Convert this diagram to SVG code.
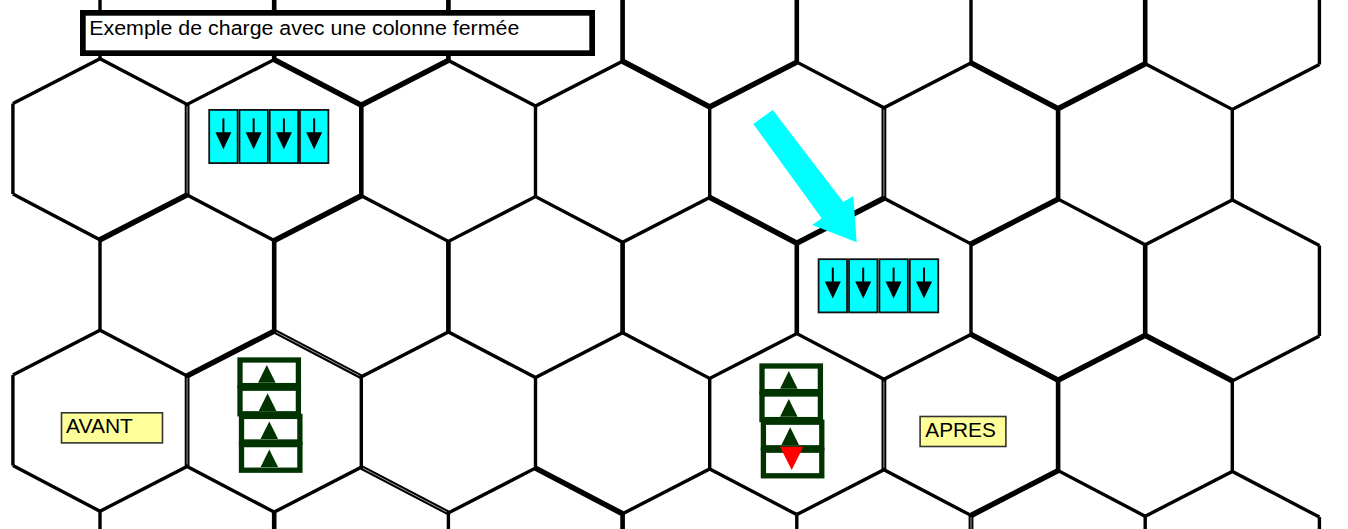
<svg xmlns="http://www.w3.org/2000/svg" width="1348" height="529" viewBox="0 0 1348 529">
<style>
.g{fill:none;stroke:#000;stroke-width:3.4;stroke-linejoin:miter}
.t{fill:none;stroke:#000;stroke-width:5.5}
.tv{fill:none;stroke:#000;stroke-width:4.6}
.dbl{fill:none;stroke:#000;stroke-width:4.8}
.dbi{fill:none;stroke:#b0b0b0;stroke-width:0.9}
.lbl{font-family:"Liberation Sans",Arial,Helvetica,sans-serif;fill:#000}
.cyc{fill:#00ffff;stroke:#111;stroke-width:1.8}
.gbx{fill:#fff;stroke:#003300;stroke-width:5.3}
</style>
<defs>
<g id="cycell">
<rect class="cyc" x="0.9" y="0.9" width="28.45" height="53.2"/>
<line x1="15.1" y1="9.3" x2="15.1" y2="25" stroke="#000" stroke-width="2"/>
<polygon points="7.1,23.3 23.1,23.3 15.1,40.3" fill="#000"/>
</g>
<rect id="gbox" class="gbx" x="0" y="0" width="58.4" height="25.6"/>
<polygon id="gtri" points="18,22.7 35.6,22.7 26.8,5" fill="#003300"/>
</defs>

<g id="grid" transform="matrix(1,0.0048,0,1,0,-0.48)">
<path class="g" d="M12.9,104 L100,58.75 L187.1,104 L274.2,58.75 L361.3,104 L448.4,58.75 L535.5,104 L622.6,58.75 L709.7,104 L796.8,58.75 L883.9,104 L971,58.75 L1058.1,104 L1145.2,58.75 L1232.3,104 L1319.4,58.75"/>
<path class="g" d="M12.9,194.5 L100,239.75 L187.1,194.5 L274.2,239.75 L361.3,194.5 L448.4,239.75 L535.5,194.5 L622.6,239.75 L709.7,194.5 L796.8,239.75 L883.9,194.5 L971,239.75 L1058.1,194.5 L1145.2,239.75 L1232.3,194.5 L1319.4,239.75"/>
<path class="g" d="M12.9,375.5 L100,330.25 L187.1,375.5 L274.2,330.25 L361.3,375.5 L448.4,330.25 L535.5,375.5 L622.6,330.25 L709.7,375.5 L796.8,330.25 L883.9,375.5 L971,330.25 L1058.1,375.5 L1145.2,330.25 L1232.3,375.5 L1319.4,330.25"/>
<path class="g" d="M12.9,466 L100,511.25 L187.1,466 L274.2,511.25 L361.3,466 L448.4,511.25 L535.5,466 L622.6,511.25 L709.7,466 L796.8,511.25 L883.9,466 L971,511.25 L1058.1,466 L1145.2,511.25 L1232.3,466 L1319.4,511.25"/>
<path class="g" d="M100,-10V58.75 M274.2,-10V58.75 M448.4,-10V58.75 M622.6,-10V58.75 M796.8,-10V58.75 M971,-10V58.75 M1145.2,-10V58.75 M1319.4,-10V58.75"/>
<path class="g" d="M100,239.75V330.25 M274.2,239.75V330.25 M448.4,239.75V330.25 M622.6,239.75V330.25 M796.8,239.75V330.25 M971,239.75V330.25 M1145.2,239.75V330.25 M1319.4,239.75V330.25"/>
<path class="g" d="M100,511.25V545 M274.2,511.25V545 M448.4,511.25V545 M622.6,511.25V545 M796.8,511.25V545 M971,511.25V545 M1145.2,511.25V545 M1319.4,511.25V545"/>
<path class="g" d="M12.9,104V194.5 M187.1,104V194.5 M361.3,104V194.5 M535.5,104V194.5 M709.7,104V194.5 M883.9,104V194.5 M1058.1,104V194.5 M1232.3,104V194.5"/>
<path class="g" d="M12.9,375.5V466 M187.1,375.5V466 M361.3,375.5V466 M535.5,375.5V466 M709.7,375.5V466 M883.9,375.5V466 M1058.1,375.5V466 M1232.3,375.5V466"/>
<path class="t" d="M274.2,58.75L361.3,104L448.4,58.75 M622.6,58.75L709.7,104L796.8,58.75 M971,58.75L1058.1,104L1145.2,58.75 M100,239.75L187.1,194.5 M274.2,239.75L361.3,194.5 M709.7,194.5L796.8,239.75L883.9,194.5 M971,239.75L1058.1,194.5 M187.1,375.5L274.2,330.25 M971,330.25L1058.1,375.5L1145.2,330.25L1232.3,375.5 M535.5,466L622.6,511.25 M971,511.25L1058.1,466"/>
<path class="tv" d="M274.2,-10V58.75 M448.4,-10V58.75 M622.6,-10V58.75 M796.8,-10V58 M1145.2,-10V58 M361.3,104V194.5 M1058.1,104V194.5 M274.2,239.75V330.25 M448.4,239.75V330.25 M622.6,239.75V330.25 M796.8,239.75V330.25 M1145.2,239.75V330.25 M1058.1,375.5V466 M274.2,511.25V545 M622.6,511.25V545"/>
<path class="dbl" d="M187.1,104V194.5 M883.9,104V194.5 M187.1,375.5V466 M883.9,375.5V466 M274.2,330.25L361.3,375.5 M361.3,466L448.4,511.25 M971,511.25V545"/>
<path class="dbi" d="M187.1,106V192.5 M883.9,106V192.5 M187.1,377.5V464 M883.9,377.5V464 M276,331.2L359.5,374.5 M363,467L446.6,510.3 M971,513V545"/>
</g>

<g id="title">
<rect x="82.85" y="12.85" width="509.3" height="40.3" fill="#fff" stroke="#000" stroke-width="5.7"/>
<text class="lbl" x="89.3" y="35.3" font-size="20" textLength="430" lengthAdjust="spacingAndGlyphs">Exemple de charge avec une colonne fermée</text>
</g>

<g id="cyan-stack-1">
<use href="#cycell" x="208.3" y="109"/>
<use href="#cycell" x="238.55" y="109"/>
<use href="#cycell" x="268.8" y="109"/>
<use href="#cycell" x="299.05" y="109"/>
</g>

<g id="cyan-stack-2">
<use href="#cycell" x="817.7" y="258.3"/>
<use href="#cycell" x="848.1" y="258.3"/>
<use href="#cycell" x="878.5" y="258.3"/>
<use href="#cycell" x="908.9" y="258.3"/>
</g>

<g id="green-stack-avant">
<use href="#gbox" x="240" y="360"/><use href="#gtri" x="240" y="360"/>
<use href="#gbox" x="240" y="388.2"/><use href="#gtri" x="240.8" y="388.2"/>
<use href="#gbox" x="241.5" y="416.4"/><use href="#gtri" x="242.5" y="416.4"/>
<use href="#gbox" x="241.5" y="444.6"/><use href="#gtri" x="242.5" y="444.6"/>
</g>

<g id="green-stack-apres">
<use href="#gbox" x="762" y="366"/><use href="#gtri" x="762" y="366"/>
<use href="#gbox" x="762" y="394"/><use href="#gtri" x="762" y="394"/>
<use href="#gbox" x="763.4" y="422.2"/><use href="#gtri" x="763.4" y="422.2"/>
<use href="#gbox" x="763.4" y="450.2"/>
<polygon points="780,446.7 803.3,446.7 791.7,470" fill="#ff0000"/>
</g>

<g id="label-avant">
<rect x="61.5" y="412.8" width="101" height="30.1" fill="#ffff99" stroke="#333" stroke-width="1.6"/>
<text class="lbl" x="66" y="433.3" font-size="21">AVANT</text>
</g>

<g id="label-apres">
<rect x="920.1" y="416.5" width="85.8" height="30" fill="#ffff99" stroke="#333" stroke-width="1.6"/>
<text class="lbl" x="925.3" y="436.7" font-size="20.8">APRES</text>
</g>

<g id="connectors">
<polygon points="772.7,110 843.3,202 853.3,196 856.7,242.3 812.3,225 821.7,218.3 753.3,124" fill="#00ffff"/>
</g>
</svg>
